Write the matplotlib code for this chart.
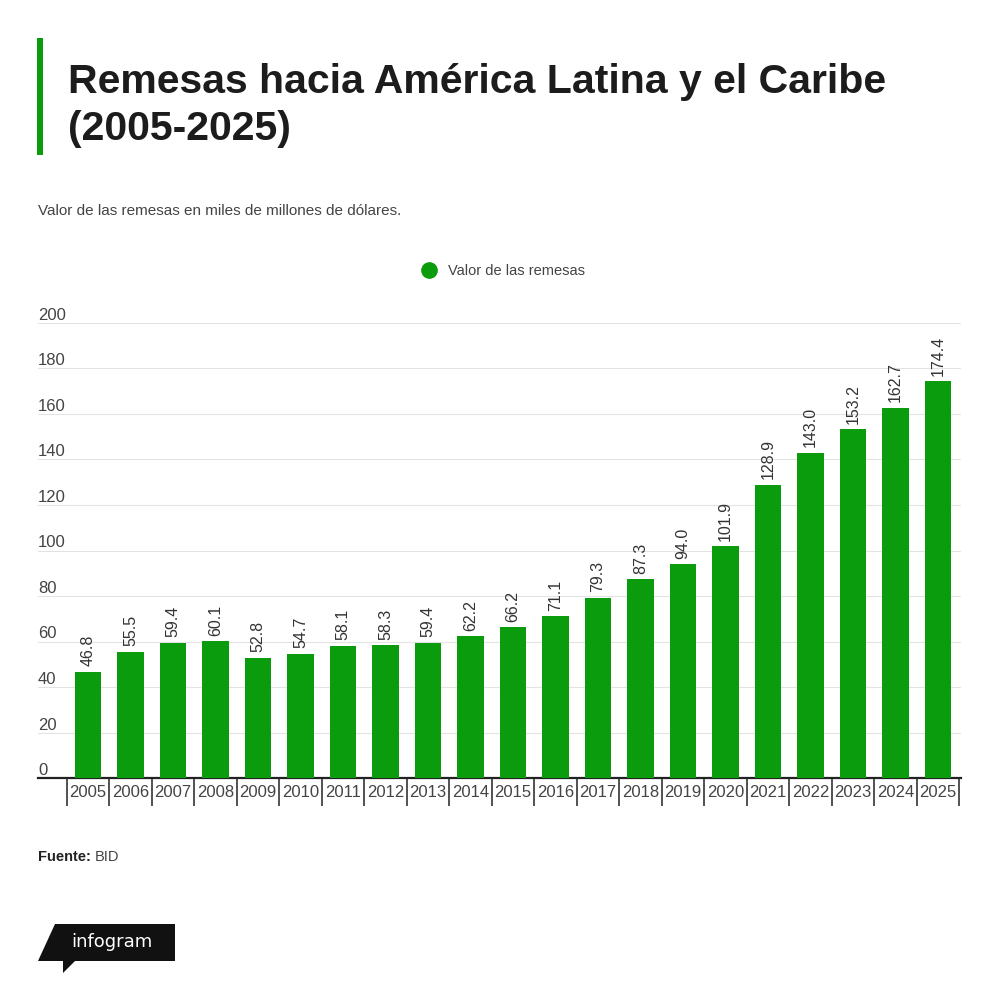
import matplotlib
matplotlib.use("Agg")
import matplotlib.pyplot as plt
from matplotlib.patches import Polygon, Rectangle
from matplotlib.lines import Line2D

# datos (miles de millones de USD)
years = [str(y) for y in range(2005, 2026)]
remesas = [46.8, 55.5, 59.4, 60.1, 52.8, 54.7, 58.1, 58.3, 59.4, 62.2, 66.2,
           71.1, 79.3, 87.3, 94.0, 101.9, 128.9, 143.0, 153.2, 162.7, 174.4]
y_ticks = list(range(0, 201, 20))

GREEN = "#0a9c0c"
W, H = 1000, 993

plt.rcParams['font.family'] = ['Liberation Sans', 'DejaVu Sans']


def px(x, y):
    # pixeles (origen arriba-izquierda) -> coordenadas de figura
    return x / W, 1 - y / H


fig = plt.figure(figsize=(W / 100, H / 100), dpi=100)
fig.patch.set_facecolor("white")

# barra verde del titulo
fig.patches.append(Rectangle(px(37, 155), 6 / W, 117 / H, transform=fig.transFigure,
                             facecolor=GREEN, edgecolor="none"))
fig.text(*px(68, 93), "Remesas hacia América Latina y el Caribe", fontsize=29.5,
         fontweight="bold", color="#1c1c1c", va="baseline")
fig.text(*px(68, 140), "(2005-2025)", fontsize=29.5,
         fontweight="bold", color="#1c1c1c", va="baseline")
fig.text(*px(38, 215), "Valor de las remesas en miles de millones de dólares.",
         fontsize=11, color="#444444", va="baseline")

ax = fig.add_axes([38 / W, 1 - 778 / H, 923 / W, 455 / H])
x = list(range(len(years)))
ax.bar(x, remesas, width=0.63, color=GREEN, zorder=3)
ax.set_xlim(-1.175, 20.54)
ax.set_ylim(0, 200)

for xi, v in zip(x, remesas):
    ax.annotate(f"{v:.1f}", (xi, v), xytext=(0, 4), textcoords="offset points",
                rotation=90, ha="center", va="bottom", fontsize=11.5, color="#333333")

# grid y etiquetas del eje y
ax.set_yticks(y_ticks)
ax.yaxis.grid(True, color="#e3e3e3", linewidth=0.8, zorder=0)
ax.tick_params(axis="y", length=0, labelleft=False)
for t in y_ticks:
    ax.text(0, t, str(t), transform=ax.get_yaxis_transform(), fontsize=12,
            color="#444444", va="bottom", ha="left")
ax.set_xticks(x)
ax.set_xticklabels(years, fontsize=12, color="#444444")
ax.set_xticks([i - 0.5 for i in range(len(years) + 1)], minor=True)
ax.tick_params(axis="x", which="major", length=0, pad=5)
ax.tick_params(axis="x", which="minor", length=20, width=1.2, color="#333333")

for s in ["top", "right", "left"]:
    ax.spines[s].set_visible(False)
ax.spines["bottom"].set_linewidth(1.6)
ax.spines["bottom"].set_color("#222222")

# leyenda
handle = Line2D([], [], marker="o", linestyle="none", markersize=11,
                markerfacecolor=GREEN, markeredgecolor=GREEN)
fig.legend([handle], ["Valor de las remesas"], loc="center",
           bbox_to_anchor=px(500, 271), frameon=False, fontsize=10.5,
           handletextpad=0.3, labelcolor="#444444")

# fuente
fig.text(*px(38, 861), "Fuente:", fontsize=10.5, fontweight="bold",
         color="#222222", va="baseline")
fig.text(*px(95, 861), "BID", fontsize=10.5, color="#444444", va="baseline")

# logo infogram
pts = [(55, 924), (175, 924), (175, 961), (75, 961), (63, 973), (63, 961), (38, 961)]
fig.patches.append(Polygon([px(a, b) for a, b in pts], closed=True,
                           transform=fig.transFigure, facecolor="#111111",
                           edgecolor="none"))
fig.text(*px(112, 942), "infogram", fontsize=13, color="white", ha="center",
         va="center", family="DejaVu Sans")

fig.savefig("out.png", dpi=100, facecolor="white")
